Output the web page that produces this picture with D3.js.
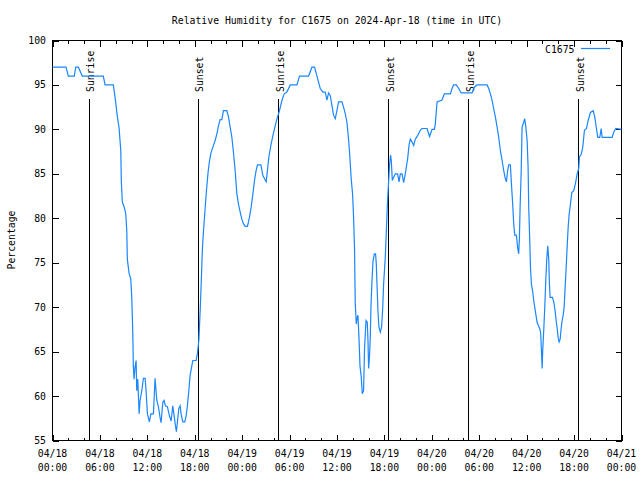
<!DOCTYPE html>
<html><head><meta charset="utf-8">
<script src="https://cdn.jsdelivr.net/npm/d3@7"></script>
<style>
body{margin:0;background:#fff}
text{font-family:"DejaVu Sans Mono","Liberation Mono",monospace;font-size:9.8px;fill:#000}
</style>
</head><body>
<svg id="chart" width="640" height="480"></svg>
<script>
const title = "Relative Humidity for C1675 on 2024-Apr-18 (time in UTC)";
const seriesName = "C1675";
const yLabel = "Percentage";

// hours after 2024-04-18 00:00 UTC
const hours = [0,1.71,2.00,2.76,2.94,3.27,3.77,6.43,6.65,7.70,7.92,8.21,8.42,8.64,8.71,8.84,9.06,9.27,9.40,9.47,9.69,9.90,10.03,10.16,10.23,10.32,10.45,10.58,10.66,10.79,10.96,11.08,11.30,11.50,11.72,11.84,12.01,12.26,12.44,12.77,12.98,13.20,13.40,13.61,13.74,13.96,14.12,14.29,14.54,14.79,15.01,15.22,15.39,15.55,15.68,15.81,15.98,16.15,16.27,16.49,16.74,16.91,17.07,17.25,17.41,17.63,17.76,18.17,18.34,18.52,18.68,18.81,18.97,19.10,19.28,19.40,19.53,19.69,19.86,20.04,20.37,20.58,20.80,21.00,21.21,21.43,21.63,22.06,22.27,22.48,22.70,22.90,23.11,23.33,23.53,23.75,23.96,24.16,24.38,24.67,24.92,25.14,25.36,25.56,25.77,25.94,26.37,26.62,27.04,27.20,27.38,27.63,27.89,28.18,28.47,28.72,29.03,29.32,29.66,30.08,30.93,31.26,32.40,32.83,33.16,33.46,33.88,34.22,34.51,34.73,34.93,35.15,35.36,35.56,35.78,35.99,36.20,36.63,36.83,37.05,37.26,37.46,37.59,37.68,37.80,37.97,38.10,38.22,38.31,38.44,38.53,38.65,38.78,38.91,39.07,39.20,39.36,39.49,39.67,39.83,39.92,40.00,40.12,40.21,40.30,40.43,40.55,40.72,40.88,40.97,41.06,41.19,41.31,41.48,41.64,41.77,41.90,42.11,42.24,42.40,42.53,42.66,42.78,42.87,43.00,43.16,43.38,43.67,43.85,44.01,44.23,44.43,44.64,44.77,44.94,45.11,45.28,45.49,45.70,45.91,46.20,46.54,46.76,47.39,47.72,48.03,48.32,48.44,48.66,49.29,49.58,50.34,50.56,50.76,51.10,51.40,51.70,53.09,53.38,53.72,54.99,55.20,55.41,55.62,55.83,56.04,56.26,56.46,56.68,56.89,57.09,57.31,57.44,57.60,57.73,57.94,58.07,58.23,58.36,58.49,58.70,58.87,58.99,59.08,59.17,59.30,59.42,59.63,59.75,59.88,60.06,60.18,60.26,60.39,60.48,60.60,60.77,60.89,61.02,61.15,61.32,61.49,61.65,61.78,61.87,61.96,62.03,62.16,62.29,62.41,62.54,62.67,62.79,62.88,62.97,63.26,63.43,63.60,63.73,63.86,63.98,64.11,64.24,64.36,64.49,64.62,64.74,64.87,65.00,65.12,65.25,65.38,65.54,65.71,65.96,66.17,66.39,66.59,66.68,66.90,67.10,67.31,67.57,67.78,68.07,68.41,68.62,68.83,69.00,69.25,69.43,69.55,69.76,70.82,71.02,71.28,72.00];

const rh = [97,97,96,96,97,97,96,96,95,95,93.6,91.4,90.2,87.6,84.1,81.8,81.3,80.5,78.6,75.4,73.8,73.2,71.1,67,63.4,61.9,63.3,64,60.6,61.9,58,59.5,60.6,62,62,60.6,58,57.1,58,58,62,59.5,58.8,57.6,57,59.3,59.5,58.9,58.8,57.8,57.2,58.9,57.8,56.7,56,57.1,58.6,58.9,58,57.1,57.1,57.8,58.9,60.6,62.3,63.4,64,64,64.8,66.3,69.5,72.5,76.6,78.5,80.7,82.2,83.6,85.2,86.4,87.3,88.2,88.75,89.5,90.4,91.1,91.1,92.1,92.1,91.4,90.25,89.1,87.4,85.4,82.75,81.6,80.7,79.9,79.4,79.1,79.1,80.1,81.25,82.75,84.25,85.4,86,86,84.8,84.1,85.4,86.9,88.2,89.3,90.4,91.4,92.1,93.25,94,94.2,95,95,96,96,97,97,96,94.6,94.2,94.2,93.3,94.1,93.8,92.7,91.6,91.2,92.1,93.1,93.1,92.5,91.75,90.8,88.9,87.4,86.1,84.4,82.75,80.1,76.5,70.4,68.1,68.7,69.1,66.6,63.4,62.1,60.25,60.6,65.5,68.5,68.3,66.25,63.1,64.6,66.6,70.2,73,75.1,76,76,74.9,72.6,69.4,67.75,67.2,67.75,69.6,72.6,75.6,78.5,82,84.1,86.1,87.1,86.5,84.25,84.6,85,85,84.1,85,85,84,85,85.75,86.7,88.2,88.9,88.6,88.2,88.9,89.3,89.9,90.1,90.1,89.2,90,90,90.6,93.1,93.3,94,94,94.6,95,95,94.6,94.1,94.1,94.75,95,95,94.6,94,93.3,92.3,91.4,90.25,89.1,87.6,86.5,85.4,84.4,84.1,85.4,86,86,83.9,81.6,79.4,78.1,78.1,76.6,76,77.7,81.25,85,90.25,90.8,91.2,90.4,88.75,85.75,81.25,77.5,74.5,72.6,71.7,70.75,70,69.25,68.3,67.9,67.6,67,65.1,63.1,65.1,67.4,70,72.8,75.4,76.9,75.4,72.6,71.1,71.1,70.6,69.6,68.5,67.6,66.6,66.1,66.4,67.6,68.5,69.1,70,72.25,74.5,76.75,79,80.5,81.6,82.9,83.1,83.9,85,85.6,86.9,87.2,88,89.9,90.1,91,91.9,92.1,91.4,90.1,89.1,89.1,90.1,89.1,89.1,89.1,89.7,90.1,90];

const sunriseHours = [4.66, 28.62, 52.64];
const sunsetHours = [18.46, 42.53, 66.62];

const yTicks = [55,60,65,70,75,80,85,90,95,100];
const xTickHours = [0,6,12,18,24,30,36,42,48,54,60,66,72];
const xTickDates = ["04/18","04/18","04/18","04/18","04/19","04/19","04/19","04/19","04/20","04/20","04/20","04/20","04/21"];
const xTickTimes = ["00:00","06:00","12:00","18:00","00:00","06:00","12:00","18:00","00:00","06:00","12:00","18:00","00:00"];
const xMinorHours = [2,4,8,10,14,16,20,22,26,28,32,34,38,40,44,46,50,52,56,58,62,64,68,70];

const t0 = Date.UTC(2024,3,18,0,0);
const toDate = h => new Date(t0 + h*3600e3);

const L = 52.5, R = 621.5, T = 40.5, B = 440.5;
const svg = d3.select("#chart");
const x = d3.scaleUtc().domain([toDate(0), toDate(72)]).range([L, R]);
const y = d3.scaleLinear().domain([55,100]).range([B, T]);

// title
svg.append("text").attr("x", (L+R)/2).attr("y", 23.5).attr("text-anchor","middle").text(title);
// y label
svg.append("text").attr("transform","translate(14.5,240) rotate(-90)").attr("text-anchor","middle").text(yLabel);

// axes
function styleAxis(g){ g.select(".domain").remove(); g.selectAll("line").attr("stroke","#000").attr("shape-rendering","crispEdges"); g.selectAll("text").remove(); }
svg.append("g").attr("transform",`translate(0,${B})`)
  .call(d3.axisBottom(x).tickValues(xTickHours.map(toDate)).tickSizeInner(-6).tickSizeOuter(0).tickFormat("")).call(styleAxis);
svg.append("g").attr("transform",`translate(0,${B})`)
  .call(d3.axisBottom(x).tickValues(xMinorHours.map(toDate)).tickSizeInner(-3).tickSizeOuter(0).tickFormat("")).call(styleAxis);
svg.append("g").attr("transform",`translate(0,${T})`)
  .call(d3.axisTop(x).tickValues(xTickHours.map(toDate)).tickSizeInner(-6).tickSizeOuter(0).tickFormat("")).call(styleAxis);
svg.append("g").attr("transform",`translate(0,${T})`)
  .call(d3.axisTop(x).tickValues(xMinorHours.map(toDate)).tickSizeInner(-3).tickSizeOuter(0).tickFormat("")).call(styleAxis);
svg.append("g").attr("transform",`translate(${L},0)`)
  .call(d3.axisLeft(y).tickValues(yTicks).tickSizeInner(-6).tickSizeOuter(0).tickFormat("")).call(styleAxis);
svg.append("g").attr("transform",`translate(${R},0)`)
  .call(d3.axisRight(y).tickValues(yTicks).tickSizeInner(-6).tickSizeOuter(0).tickFormat("")).call(styleAxis);

// tick labels
svg.append("g").selectAll("text").data(yTicks).join("text")
  .attr("x", 46).attr("y", d => y(d)+3.5).attr("text-anchor","end").text(d => d);
const xl = svg.append("g").selectAll("g").data(xTickHours).join("g")
  .attr("transform", d => `translate(${x(toDate(d))},0)`);
xl.append("text").attr("y",457).attr("text-anchor","middle").text((d,i)=>xTickDates[i]);
xl.append("text").attr("y",471).attr("text-anchor","middle").text((d,i)=>xTickTimes[i]);

// frame
svg.append("rect").attr("x",L).attr("y",T).attr("width",R-L).attr("height",B-T)
  .attr("fill","none").attr("stroke","#000").attr("shape-rendering","crispEdges");

// sun events
const events = sunriseHours.map(h=>({h, label:"Sunrise"})).concat(sunsetHours.map(h=>({h,label:"Sunset"})));
const ev = svg.append("g").selectAll("g").data(events).join("g");
ev.append("line").attr("x1",d=>x(toDate(d.h))).attr("x2",d=>x(toDate(d.h)))
  .attr("y1",99).attr("y2",B).attr("stroke","#000").attr("shape-rendering","crispEdges");
ev.append("text").attr("transform",d=>`translate(${x(toDate(d.h))+5},92) rotate(-90)`)
  .attr("text-anchor","start").text(d=>d.label);

// data line
const pts = hours.map((h,i)=>({t:toDate(h), v:rh[i]}));
svg.append("path").datum(pts)
  .attr("d", d3.line().x(d=>x(d.t)).y(d=>y(d.v)))
  .attr("fill","none").attr("stroke","#1a86ff").attr("stroke-width",1.2);

// legend
svg.append("text").attr("x",574.5).attr("y",53).attr("text-anchor","end").text(seriesName);
svg.append("line").attr("x1",581).attr("x2",610).attr("y1",48.5).attr("y2",48.5)
  .attr("stroke","#1a86ff").attr("stroke-width",1.2);
</script>
</body></html>
